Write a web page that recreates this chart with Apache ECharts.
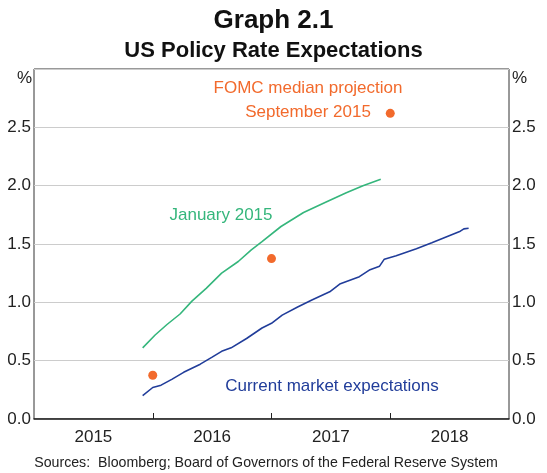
<!DOCTYPE html>
<html>
<head>
<meta charset="utf-8">
<script src="https://cdn.jsdelivr.net/npm/echarts@6/dist/echarts.min.js"></script>
<style>
  html, body { margin: 0; padding: 0; background: #fff; }
  #chart { width: 547px; height: 473px; }
</style>
</head>
<body>
<div id="chart"></div>
<script>
// year labels sit in the middle of each year, ticks on year boundaries
const years = [2015, 2016, 2017, 2018];

// current market expectations (fractional year, %)
const marketDates = [2015.915, 2016.0, 2016.07, 2016.16, 2016.26, 2016.4, 2016.5, 2016.58, 2016.66, 2016.79,
  2016.92, 2017.0, 2017.09, 2017.22, 2017.34, 2017.49, 2017.58, 2017.74, 2017.83, 2017.91,
  2017.95, 2018.05, 2018.22, 2018.35, 2018.47, 2018.59, 2018.62, 2018.66];
const marketRates = [0.2, 0.27, 0.29, 0.34, 0.4, 0.47, 0.53, 0.58, 0.61, 0.69,
  0.78, 0.82, 0.89, 0.96, 1.02, 1.09, 1.16, 1.22, 1.28, 1.31,
  1.37, 1.4, 1.46, 1.51, 1.56, 1.61, 1.63, 1.635];

// January 2015 expectations
const janDates = [2015.915, 2016.02, 2016.12, 2016.23, 2016.33, 2016.45, 2016.58, 2016.72, 2016.83, 2016.92,
  2017.08, 2017.27, 2017.46, 2017.63, 2017.77, 2017.92];
const janRates = [0.61, 0.72, 0.81, 0.9, 1.01, 1.12, 1.25, 1.35, 1.45, 1.52,
  1.65, 1.77, 1.86, 1.94, 2.0, 2.055];

// FOMC median projection, September 2015 (end of year)
const fomcDates = [2016.0, 2017.0, 2018.0];
const fomcRates = [0.375, 1.375, 2.62];

const zip = (xs, ys) => xs.map((x, i) => [x, ys[i]]);

const FONT = "Liberation Sans, Arial, sans-serif";
const GREEN = "#35b67c";
const BLUE = "#213d9a";
const ORANGE = "#f26a2c";

const yAxisBase = {
  type: "value",
  min: 0,
  max: 3,
  interval: 0.5,
  axisLine: { show: false },
  axisTick: { show: false },
  axisLabel: {
    fontFamily: FONT,
    fontSize: 17,
    color: "#222",
    margin: 3,
    formatter: (v) => (v >= 3 ? "" : v.toFixed(1)),
  },
};

const chart = echarts.init(document.getElementById("chart"), null, { renderer: "canvas" });
chart.setOption({
  animation: false,
  title: [
    {
      text: "Graph 2.1",
      left: "center",
      top: 3,
      textStyle: { fontFamily: FONT, fontSize: 26, fontWeight: "bold", color: "#111" },
    },
    {
      text: "US Policy Rate Expectations",
      left: "center",
      top: 35,
      textStyle: { fontFamily: FONT, fontSize: 22, fontWeight: "bold", color: "#111" },
    },
  ],
  grid: {
    left: 34, right: 38, top: 69, bottom: 54,
    show: true, borderColor: "#333", borderWidth: 1,
  },
  xAxis: {
    type: "value",
    min: 2015,
    max: 2019,
    axisLine: { show: true, lineStyle: { color: "#222", width: 1.5 } },
    axisTick: {
      show: true, inside: true, length: 6,
      customValues: years.slice(1),
      lineStyle: { color: "#222" },
    },
    axisLabel: {
      fontFamily: FONT, fontSize: 17, color: "#222", margin: 10,
      customValues: years.map((y) => y + 0.5),
      formatter: (v) => String(Math.floor(v)),
    },
    splitLine: { show: false },
  },
  yAxis: [
    Object.assign({}, yAxisBase, {
      position: "left",
      splitLine: { show: true, lineStyle: { color: "#cccccc", width: 1.2 } },
    }),
    Object.assign({}, yAxisBase, {
      position: "right",
      splitLine: { show: false },
    }),
  ],
  series: [
    {
      name: "January 2015",
      type: "line",
      data: zip(janDates, janRates),
      showSymbol: false,
      lineStyle: { color: GREEN, width: 1.6 },
    },
    {
      name: "Current market expectations",
      type: "line",
      data: zip(marketDates, marketRates),
      showSymbol: false,
      lineStyle: { color: BLUE, width: 1.6 },
    },
    {
      name: "FOMC median projection",
      type: "scatter",
      data: zip(fomcDates, fomcRates),
      symbolSize: 9,
      itemStyle: { color: ORANGE, opacity: 1 },
    },
  ],
  graphic: [
    { type: "text", left: 17, top: 70, style: { text: "%", font: `17px ${FONT}`, fill: "#222" } },
    { type: "text", left: 512, top: 70, style: { text: "%", font: `17px ${FONT}`, fill: "#222" } },
    {
      type: "text", x: 308, y: 88,
      style: { text: "FOMC median projection", font: `17px ${FONT}`, fill: ORANGE, align: "center", verticalAlign: "middle" },
    },
    {
      type: "text", x: 308, y: 112,
      style: { text: "September 2015", font: `17px ${FONT}`, fill: ORANGE, align: "center", verticalAlign: "middle" },
    },
    {
      type: "text", x: 221, y: 215,
      style: { text: "January 2015", font: `17px ${FONT}`, fill: GREEN, align: "center", verticalAlign: "middle" },
    },
    {
      type: "text", x: 332, y: 386,
      style: { text: "Current market expectations", font: `17px ${FONT}`, fill: BLUE, align: "center", verticalAlign: "middle" },
    },
    {
      type: "text", x: 266, y: 463,
      style: {
        text: "Sources:  Bloomberg; Board of Governors of the Federal Reserve System",
        font: `14.2px ${FONT}`, fill: "#222", align: "center", verticalAlign: "middle",
      },
    },
  ],
});
window.addEventListener("resize", () => chart.resize());
</script>
</body>
</html>
